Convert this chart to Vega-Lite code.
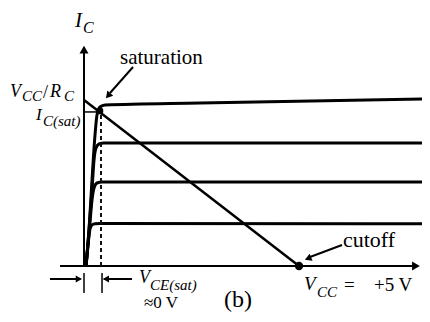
{
  "$schema": "https://vega.github.io/schema/vega-lite/v6.json",
  "width": 430,
  "height": 322,
  "padding": 0,
  "autosize": {"type": "none"},
  "background": "white",
  "config": {"view": {"stroke": null}},
  "encoding": {
    "x": {"field": "v", "type": "quantitative", "axis": null,
          "scale": {"domain": [-1.9535, 8.0465], "nice": false, "zero": false}},
    "y": {"field": "i", "type": "quantitative", "axis": null,
          "scale": {"domain": [-1.6867, 8.012], "nice": false, "zero": false}}
  },
  "layer": [
    {
      "description": "Collector characteristic curves, one per base current",
      "data": {"values": [
        {"curve": "A", "k": 0, "v": 0.047, "i": 0},
        {"curve": "A", "k": 1, "v": 0.07, "i": 0.331},
        {"curve": "A", "k": 2, "v": 0.093, "i": 0.633},
        {"curve": "A", "k": 3, "v": 0.116, "i": 0.904},
        {"curve": "A", "k": 4, "v": 0.14, "i": 1.114},
        {"curve": "A", "k": 5, "v": 0.186, "i": 1.235},
        {"curve": "A", "k": 6, "v": 0.256, "i": 1.275},
        {"curve": "A", "k": 7, "v": 0.372, "i": 1.28},
        {"curve": "A", "k": 8, "v": 7.86, "i": 1.27},
        {"curve": "B", "k": 0, "v": 0.047, "i": 0},
        {"curve": "B", "k": 1, "v": 0.093, "i": 0.633},
        {"curve": "B", "k": 2, "v": 0.14, "i": 1.325},
        {"curve": "B", "k": 3, "v": 0.186, "i": 1.988},
        {"curve": "B", "k": 4, "v": 0.233, "i": 2.349},
        {"curve": "B", "k": 5, "v": 0.302, "i": 2.5},
        {"curve": "B", "k": 6, "v": 0.419, "i": 2.53},
        {"curve": "B", "k": 7, "v": 7.86, "i": 2.53},
        {"curve": "C", "k": 0, "v": 0.047, "i": 0},
        {"curve": "C", "k": 1, "v": 0.116, "i": 1.084},
        {"curve": "C", "k": 2, "v": 0.186, "i": 2.289},
        {"curve": "C", "k": 3, "v": 0.233, "i": 3.193},
        {"curve": "C", "k": 4, "v": 0.279, "i": 3.554},
        {"curve": "C", "k": 5, "v": 0.349, "i": 3.675},
        {"curve": "C", "k": 6, "v": 0.465, "i": 3.705},
        {"curve": "C", "k": 7, "v": 7.86, "i": 3.705},
        {"curve": "D", "k": 0, "v": 0.047, "i": 0},
        {"curve": "D", "k": 1, "v": 0.116, "i": 1.084},
        {"curve": "D", "k": 2, "v": 0.186, "i": 2.59},
        {"curve": "D", "k": 3, "v": 0.256, "i": 3.946},
        {"curve": "D", "k": 4, "v": 0.302, "i": 4.548},
        {"curve": "D", "k": 5, "v": 0.372, "i": 4.789},
        {"curve": "D", "k": 6, "v": 0.488, "i": 4.849},
        {"curve": "D", "k": 7, "v": 2.698, "i": 4.91},
        {"curve": "D", "k": 8, "v": 7.86, "i": 5.03}
      ]},
      "mark": {"type": "line", "color": "#000", "strokeWidth": 3, "interpolate": "monotone"},
      "encoding": {
        "detail": {"field": "curve"},
        "order": {"field": "k", "type": "quantitative"}
      }
    },
    {
      "description": "Axes, load line, dimension ticks and arrow shafts",
      "data": {"values": [
        {"part": "y axis", "v": 0, "i": 0, "v2": 0, "i2": 6.45, "w": 2},
        {"part": "x axis", "v": -0.558, "i": 0, "v2": 7.75, "i2": 0, "w": 2},
        {"part": "load line", "v": 0, "i": 5, "v2": 5, "i2": 0, "w": 2.5},
        {"part": "ic sat tick", "v": 0, "i": 4.64, "v2": 0.37, "i2": 4.64, "w": 1.5},
        {"part": "dim left", "v": -0.791, "i": -0.392, "v2": -0.08, "i2": -0.392, "w": 2},
        {"part": "dim right", "v": 1.116, "i": -0.392, "v2": 0.46, "i2": -0.392, "w": 2},
        {"part": "tick 0", "v": 0, "i": -0.211, "v2": 0, "i2": -0.813, "w": 1.5},
        {"part": "tick sat", "v": 0.419, "i": -0.211, "v2": 0.419, "i2": -0.813, "w": 1.5},
        {"part": "saturation arrow", "v": 1.14, "i": 5.994, "v2": 0.605, "i2": 5.211, "w": 2},
        {"part": "cutoff arrow", "v": 6.0, "i": 0.633, "v2": 5.256, "i2": 0.271, "w": 2}
      ]},
      "mark": {"type": "rule", "color": "#000"},
      "encoding": {
        "x2": {"field": "v2"},
        "y2": {"field": "i2"},
        "strokeWidth": {"field": "w", "type": "quantitative", "scale": null}
      }
    },
    {
      "description": "V_CE(sat) guide",
      "data": {"values": [{"v": 0.395, "i": 0, "v2": 0.395, "i2": 4.6}]},
      "mark": {"type": "rule", "color": "#111", "strokeWidth": 2, "strokeDash": [4, 3]},
      "encoding": {"x2": {"field": "v2"}, "y2": {"field": "i2"}}
    },
    {
      "description": "Arrowheads",
      "data": {"values": [
        {"v": 0, "i": 6.52, "ang": 0, "s": 80},
        {"v": 7.72, "i": 0, "ang": 90, "s": 80},
        {"v": -0.12, "i": -0.392, "ang": 90, "s": 50},
        {"v": 0.51, "i": -0.392, "ang": 270, "s": 50},
        {"v": 0.56, "i": 5.13, "ang": 221, "s": 60},
        {"v": 5.209, "i": 0.226, "ang": 248, "s": 60}
      ]},
      "mark": {"type": "point", "shape": "triangle-up", "filled": true, "color": "#000", "opacity": 1},
      "encoding": {
        "angle": {"field": "ang", "type": "quantitative", "scale": null},
        "size": {"field": "s", "type": "quantitative", "scale": null}
      }
    },
    {
      "description": "Saturation and cutoff points",
      "data": {"values": [
        {"v": 0.372, "i": 4.67, "s": 45},
        {"v": 5.0, "i": 0, "s": 70}
      ]},
      "mark": {"type": "point", "shape": "circle", "filled": true, "color": "#000", "opacity": 1},
      "encoding": {"size": {"field": "s", "type": "quantitative", "scale": null}}
    },
    {
      "description": "Italic symbols and subscripts",
      "data": {"values": [
        {"t": "I", "v": -0.209, "i": 7.199, "fs": 21},
        {"t": "C", "v": -0.023, "i": 7.018, "fs": 16},
        {"t": "V", "v": -1.721, "i": 5.09, "fs": 18},
        {"t": "CC", "v": -1.44, "i": 4.97, "fs": 15},
        {"t": "R", "v": -0.791, "i": 5.09, "fs": 18},
        {"t": "C", "v": -0.465, "i": 4.97, "fs": 15},
        {"t": "I", "v": -1.116, "i": 4.398, "fs": 17},
        {"t": "C(sat)", "v": -0.953, "i": 4.217, "fs": 15},
        {"t": "V", "v": 1.279, "i": -0.512, "fs": 18},
        {"t": "CE(sat)", "v": 1.535, "i": -0.723, "fs": 15},
        {"t": "V", "v": 5.116, "i": -0.723, "fs": 19},
        {"t": "CC", "v": 5.419, "i": -0.934, "fs": 15}
      ]},
      "mark": {"type": "text", "font": "Liberation Serif", "fontStyle": "italic", "align": "left", "baseline": "alphabetic", "color": "#000"},
      "encoding": {
        "text": {"field": "t"},
        "size": {"field": "fs", "type": "quantitative", "scale": null}
      }
    },
    {
      "description": "Upright labels",
      "data": {"values": [
        {"t": "saturation", "v": 0.837, "i": 6.084, "fs": 21},
        {"t": "/", "v": -0.953, "i": 5.06, "fs": 18},
        {"t": "≈0 V", "v": 1.395, "i": -1.26, "fs": 17},
        {"t": "(b)", "v": 3.256, "i": -1.235, "fs": 24},
        {"t": "=", "v": 6.047, "i": -0.753, "fs": 19},
        {"t": "+5 V", "v": 6.744, "i": -0.753, "fs": 19},
        {"t": "cutoff", "v": 6.023, "i": 0.572, "fs": 22}
      ]},
      "mark": {"type": "text", "font": "Liberation Serif", "align": "left", "baseline": "alphabetic", "color": "#000"},
      "encoding": {
        "text": {"field": "t"},
        "size": {"field": "fs", "type": "quantitative", "scale": null}
      }
    }
  ]
}
